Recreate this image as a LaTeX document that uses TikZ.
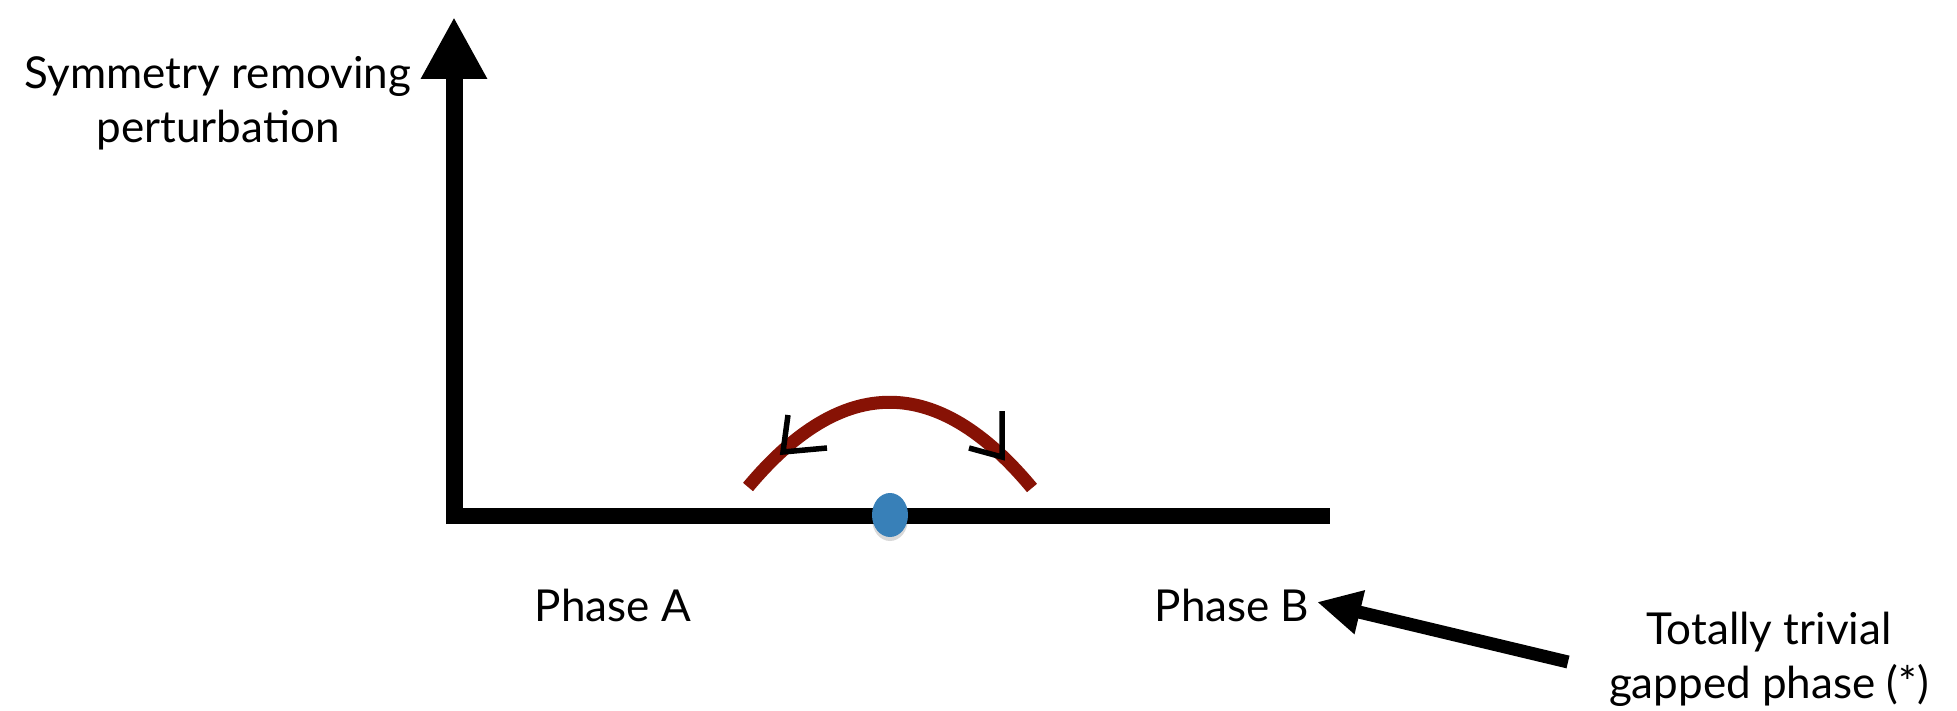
\documentclass[tikz,border=0pt]{standalone}
\usepackage{fontspec}
\setmainfont{Lato}
\usetikzlibrary{arrows.meta,shapes.geometric}
\definecolor{arcred}{RGB}{135,18,5}
\definecolor{dotblue}{RGB}{56,128,184}
\tikzset{
  lbl/.style={inner sep=0pt, align=center, font=\fontsize{44}{54}\selectfont},
  axis/.style={line width=17pt, black},
  tick/.style={line width=5.5pt, black, miter limit=10},
}
\begin{document}
\begin{tikzpicture}[x=1pt,y=-1pt]
\useasboundingbox (0,0) rectangle (1957,711);
% axes
\coordinate (origin) at (454,524);
\coordinate (ytop) at (454,17);
\coordinate (xstart) at (446,516);
\coordinate (xend) at (1330,516);
\draw[axis, -{Triangle[length=62pt,width=62pt]}] (origin) -- (ytop);
\draw[line width=16pt, black] (xstart) -- (xend);
% red arc
\coordinate (arcL) at (748,487);
\coordinate (arcR) at (1032,488);
\draw[line width=13pt, arcred] (arcL) .. controls (842.7,373.7) and (937.3,374) .. (arcR);
% arrow ticks on arc
\coordinate (tl) at (783,452);
\coordinate (tr) at (1002,457);
\draw[tick] (788,415) -- (tl) -- (827,448);
\draw[tick] (1002,411) -- (tr) -- (969,448);
% critical point dot
\fill[black, opacity=0.15] (890,519) ellipse [x radius=18, y radius=22];
\node[draw=none, fill=dotblue, ellipse, minimum width=36pt, minimum height=44pt, inner sep=0pt] (dot) at (890,515) {};
% labels
\node[lbl] (ylabel) at (218,103) {Symmetry removing\\perturbation};
\node[lbl] (phA) at (613,605) {Phase A};
\node[lbl] (phB) at (1232,605) {Phase B};
\node[lbl] (triv) at (1769,659) {Totally trivial\\gapped phase (*)};
% pointer arrow
\coordinate (tail) at (1568,662);
\coordinate (tip) at (1317,602);
\draw[line width=13pt, black, -{Triangle[length=44pt,width=42pt]}] (tail) -- (tip);
\end{tikzpicture}
\end{document}
